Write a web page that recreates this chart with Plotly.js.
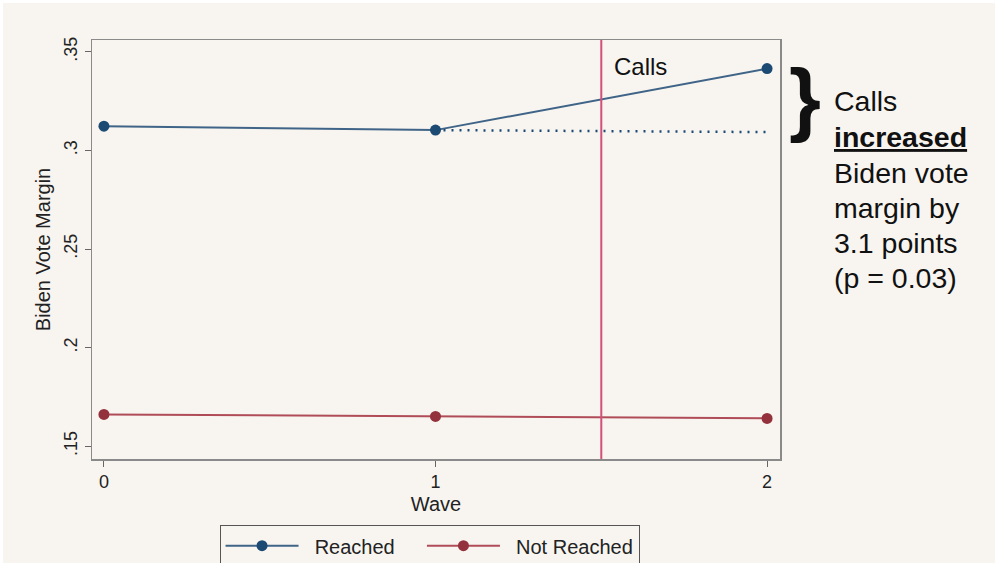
<!DOCTYPE html>
<html>
<head>
<meta charset="utf-8">
<script src="https://cdn.plot.ly/plotly-3.0.1.min.js"></script>
<style>
  html, body { margin: 0; padding: 0; background: #ffffff; overflow: hidden; width: 995px; height: 563px; }
  #chart { position: absolute; left: 3px; top: 3px; width: 992px; height: 575px; }
</style>
</head>
<body>
<div id="chart"></div>
<script>
// ---- data ----
const waves = [0, 1, 2];
const reached = [0.3123, 0.3103, 0.3415];
const notReached = [0.1661, 0.1651, 0.1641];
const counterfactualWaves = [1, 2];
const counterfactual = [0.3103, 0.3093];
const callsWave = 1.5;
const yTickVals = [0.15, 0.2, 0.25, 0.3, 0.35];
const yTickText = ['.15', '.2', '.25', '.3', '.35'];
const xTickVals = [0, 1, 2];
const xTickText = ['0', '1', '2'];
const seriesNames = ['Reached', 'Not Reached'];
const noteLines = ['Calls', '<b><u>increased</u></b>', 'Biden vote', 'margin by', '3.1 points', '(p = 0.03)'];

const FONT = 'Liberation Sans, Arial, Helvetica, sans-serif';
const BG = '#f8f5f0';
const navyLine = '#3f6487';
const navyMarker = '#1c4a73';
const redLine = '#b04c58';
const redMarker = '#93313d';
const PAD = '\u00a0\u00a0';
const TRAIL = '\u00a0\u00a0\u00a0\u00a0';

const traces = [
  {
    x: waves, y: reached, name: PAD + seriesNames[0] + TRAIL, type: 'scatter', mode: 'lines+markers',
    line: { color: navyLine, width: 2 },
    marker: { color: navyMarker, size: 11 }
  },
  {
    x: waves, y: notReached, name: PAD + seriesNames[1], type: 'scatter', mode: 'lines+markers',
    line: { color: redLine, width: 2 },
    marker: { color: redMarker, size: 11 }
  },
  {
    x: counterfactualWaves, y: counterfactual, type: 'scatter', mode: 'lines',
    line: { color: '#1c4a73', width: 2.5, dash: '2px,6px' },
    showlegend: false, hoverinfo: 'skip'
  }
];

const plotTopPage = 40, plotBottomPage = 463;
function pageYToPaper(py) { return (plotBottomPage - py) / (plotBottomPage - plotTopPage); }
const noteCentres = [102, 138, 174, 210, 245, 280];

const annotations = [
  {
    x: callsWave, xref: 'x', xanchor: 'left', xshift: 11,
    y: 0.3425, yref: 'y', yanchor: 'middle',
    text: 'Calls', showarrow: false,
    font: { family: FONT, size: 24, color: '#111111' }
  },
  {
    x: 1.0, xref: 'paper', xanchor: 'left', xshift: 7,
    y: pageYToPaper(98), yref: 'paper', yanchor: 'middle',
    text: '<b>}</b>', showarrow: false,
    font: { family: FONT, size: 82, color: '#111111' }
  }
];
noteLines.forEach((t, i) => {
  annotations.push({
    x: 1.0, xref: 'paper', xanchor: 'left', xshift: 52,
    y: pageYToPaper(noteCentres[i]), yref: 'paper', yanchor: 'middle',
    text: t, showarrow: false, align: 'left',
    font: { family: FONT, size: 28.5, color: '#111111' }
  });
});

const layout = {
  width: 992, height: 575,
  paper_bgcolor: BG, plot_bgcolor: BG,
  margin: { l: 89, r: 215, t: 37, b: 115, pad: 0 },
  font: { family: FONT, color: '#222222' },
  showlegend: true,
  legend: {
    orientation: 'h', x: 0.4906, xanchor: 'center', y: -0.158, yanchor: 'top',
    bgcolor: BG, bordercolor: '#555555', borderwidth: 1,
    font: { family: FONT, size: 20, color: '#222222' },
    itemwidth: 73, tracegroupgap: 0
  },
  xaxis: {
    range: [-0.036, 2.039],
    tickvals: xTickVals, ticktext: xTickText,
    ticks: 'outside', ticklen: 6, tickcolor: '#666666', tickwidth: 1,
    showgrid: false, zeroline: false,
    showline: true, mirror: true, linecolor: '#8a8a8a', linewidth: 1.5,
    tickfont: { family: FONT, size: 18, color: '#222222' },
    title: { text: 'Wave', font: { family: FONT, size: 20, color: '#222222' }, standoff: 6 }
  },
  yaxis: {
    range: [0.1435, 0.356],
    tickvals: yTickVals, ticktext: yTickText,
    tickangle: -90,
    ticks: 'outside', ticklen: 6, tickcolor: '#666666', tickwidth: 1,
    showgrid: false, zeroline: false,
    showline: true, mirror: true, linecolor: '#8a8a8a', linewidth: 1.5,
    tickfont: { family: FONT, size: 18, color: '#222222' },
    title: { text: 'Biden Vote Margin', font: { family: FONT, size: 20, color: '#222222' }, standoff: 5 }
  },
  shapes: [
    {
      type: 'line', xref: 'x', yref: 'paper', x0: callsWave, x1: callsWave, y0: 0, y1: 1,
      line: { color: '#d24f7a', width: 2 }
    }
  ],
  annotations: annotations
};

Plotly.newPlot('chart', traces, layout, { displayModeBar: false, staticPlot: true });
</script>
</body>
</html>
